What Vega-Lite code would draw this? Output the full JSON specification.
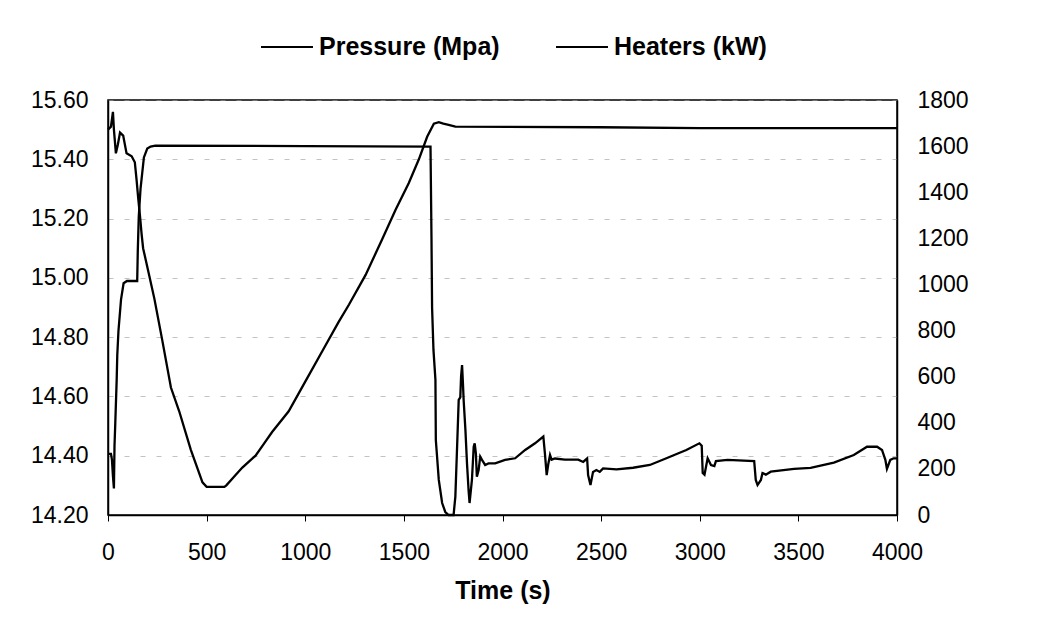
{
  "$schema": "https://vega.github.io/schema/vega-lite/v6.json",
  "width": 789,
  "height": 415,
  "autosize": {"type": "none"},
  "padding": {"left": 108, "top": 100, "right": 154, "bottom": 103},
  "background": "white",
  "config": {
    "view": {"stroke": "black", "strokeWidth": 1.5},
    "font": "Liberation Sans",
    "axis": {
      "labelFont": "Liberation Sans",
      "labelFontSize": 23,
      "labelColor": "black",
      "domainColor": "black",
      "domainWidth": 1.5,
      "tickColor": "black",
      "titleColor": "black",
      "titleFont": "Liberation Sans",
      "titleFontWeight": "bold",
      "titleFontSize": 25
    }
  },
  "datasets": {
    "pressure": [
      {"t": 0, "p": 15.50}, {"t": 15, "p": 15.51}, {"t": 25, "p": 15.56}, {"t": 30, "p": 15.50},
      {"t": 40, "p": 15.42}, {"t": 50, "p": 15.45}, {"t": 61, "p": 15.49}, {"t": 77, "p": 15.48},
      {"t": 94, "p": 15.42}, {"t": 120, "p": 15.41}, {"t": 136, "p": 15.39}, {"t": 145, "p": 15.33},
      {"t": 153, "p": 15.27}, {"t": 162, "p": 15.21}, {"t": 170, "p": 15.15}, {"t": 178, "p": 15.10},
      {"t": 205, "p": 15.02}, {"t": 235, "p": 14.93}, {"t": 275, "p": 14.79}, {"t": 319, "p": 14.63},
      {"t": 361, "p": 14.55}, {"t": 420, "p": 14.42}, {"t": 479, "p": 14.31}, {"t": 500, "p": 14.295},
      {"t": 590, "p": 14.295}, {"t": 600, "p": 14.30}, {"t": 640, "p": 14.33}, {"t": 681, "p": 14.36},
      {"t": 748, "p": 14.40}, {"t": 790, "p": 14.44}, {"t": 832, "p": 14.48}, {"t": 916, "p": 14.55},
      {"t": 1000, "p": 14.65}, {"t": 1101, "p": 14.77}, {"t": 1168, "p": 14.85}, {"t": 1222, "p": 14.91},
      {"t": 1306, "p": 15.01}, {"t": 1390, "p": 15.13}, {"t": 1458, "p": 15.23}, {"t": 1525, "p": 15.32},
      {"t": 1576, "p": 15.40}, {"t": 1618, "p": 15.476}, {"t": 1652, "p": 15.52}, {"t": 1677, "p": 15.525},
      {"t": 1700, "p": 15.52}, {"t": 1727, "p": 15.516}, {"t": 1761, "p": 15.51}, {"t": 2500, "p": 15.508},
      {"t": 3000, "p": 15.505}, {"t": 4000, "p": 15.505}
    ],
    "heaters": [
      {"t": 0, "h": 265}, {"t": 15, "h": 265}, {"t": 20, "h": 240}, {"t": 25, "h": 170}, {"t": 30, "h": 115},
      {"t": 33, "h": 300}, {"t": 37, "h": 400}, {"t": 44, "h": 586}, {"t": 47, "h": 693}, {"t": 53, "h": 798},
      {"t": 66, "h": 934}, {"t": 79, "h": 1005}, {"t": 96, "h": 1015}, {"t": 148, "h": 1015}, {"t": 151, "h": 1145},
      {"t": 156, "h": 1295}, {"t": 165, "h": 1416}, {"t": 182, "h": 1551}, {"t": 199, "h": 1589}, {"t": 216, "h": 1598},
      {"t": 240, "h": 1602}, {"t": 1000, "h": 1600}, {"t": 1635, "h": 1598}, {"t": 1640, "h": 1200}, {"t": 1643, "h": 900},
      {"t": 1650, "h": 716}, {"t": 1660, "h": 586}, {"t": 1662, "h": 325}, {"t": 1677, "h": 152}, {"t": 1694, "h": 52},
      {"t": 1710, "h": 13}, {"t": 1727, "h": 0}, {"t": 1752, "h": 0}, {"t": 1761, "h": 80}, {"t": 1770, "h": 300},
      {"t": 1778, "h": 499}, {"t": 1786, "h": 510}, {"t": 1790, "h": 600}, {"t": 1795, "h": 650}, {"t": 1800, "h": 560},
      {"t": 1803, "h": 499}, {"t": 1812, "h": 369}, {"t": 1820, "h": 224}, {"t": 1828, "h": 108}, {"t": 1833, "h": 52},
      {"t": 1845, "h": 152}, {"t": 1854, "h": 296}, {"t": 1859, "h": 311}, {"t": 1865, "h": 267}, {"t": 1870, "h": 166},
      {"t": 1879, "h": 195}, {"t": 1887, "h": 253}, {"t": 1896, "h": 239}, {"t": 1912, "h": 217}, {"t": 1929, "h": 224},
      {"t": 1963, "h": 224}, {"t": 2013, "h": 239}, {"t": 2064, "h": 246}, {"t": 2115, "h": 282}, {"t": 2165, "h": 311},
      {"t": 2207, "h": 340}, {"t": 2215, "h": 267}, {"t": 2224, "h": 173}, {"t": 2232, "h": 220}, {"t": 2241, "h": 260},
      {"t": 2249, "h": 240}, {"t": 2266, "h": 245}, {"t": 2316, "h": 240}, {"t": 2384, "h": 240}, {"t": 2409, "h": 230},
      {"t": 2429, "h": 245}, {"t": 2434, "h": 173}, {"t": 2446, "h": 130}, {"t": 2459, "h": 187}, {"t": 2476, "h": 195},
      {"t": 2493, "h": 187}, {"t": 2510, "h": 202}, {"t": 2578, "h": 198}, {"t": 2662, "h": 205}, {"t": 2747, "h": 217},
      {"t": 2831, "h": 246}, {"t": 2889, "h": 267}, {"t": 2932, "h": 282}, {"t": 2998, "h": 311}, {"t": 3010, "h": 300},
      {"t": 3015, "h": 182}, {"t": 3024, "h": 175}, {"t": 3040, "h": 246}, {"t": 3057, "h": 217}, {"t": 3074, "h": 212},
      {"t": 3082, "h": 234}, {"t": 3141, "h": 239}, {"t": 3276, "h": 234}, {"t": 3284, "h": 152}, {"t": 3293, "h": 130},
      {"t": 3310, "h": 152}, {"t": 3318, "h": 182}, {"t": 3335, "h": 175}, {"t": 3360, "h": 188}, {"t": 3478, "h": 200},
      {"t": 3562, "h": 204}, {"t": 3680, "h": 227}, {"t": 3781, "h": 260}, {"t": 3848, "h": 296}, {"t": 3899, "h": 296},
      {"t": 3924, "h": 282}, {"t": 3941, "h": 239}, {"t": 3949, "h": 200}, {"t": 3966, "h": 239}, {"t": 3983, "h": 246},
      {"t": 4000, "h": 246}
    ]
  },
  "layer": [
    {
      "data": {"name": "pressure"},
      "mark": {"type": "line", "strokeWidth": 2.3, "interpolate": "linear"},
      "encoding": {
        "x": {
          "field": "t", "type": "quantitative",
          "scale": {"domain": [0, 4000], "nice": false},
          "axis": {"values": [0, 500, 1000, 1500, 2000, 2500, 3000, 3500, 4000], "format": "d", "title": "Time (s)", "grid": false,
                   "ticks": true, "tickSize": 6, "labelPadding": 20, "titlePadding": 14, "labelFlush": false}
        },
        "y": {
          "field": "p", "type": "quantitative",
          "scale": {"domain": [14.2, 15.6], "nice": false, "zero": false},
          "axis": {"values": [14.2, 14.4, 14.6, 14.8, 15.0, 15.2, 15.4, 15.6], "format": ".2f", "title": null,
                   "ticks": false, "labelPadding": 20, "grid": true, "gridColor": "#999999", "gridDash": [5, 11],
                   "gridOpacity": 0.6, "gridWidth": 1}
        },
        "color": {
          "datum": "Pressure (Mpa)",
          "scale": {"domain": ["Pressure (Mpa)", "Heaters (kW)"], "range": ["black", "black"]},
          "legend": {
            "orient": "none", "legendX": 152, "legendY": -80, "direction": "horizontal",
            "title": null, "symbolType": "stroke", "symbolSize": 2700, "symbolStrokeWidth": 2,
            "labelFont": "Liberation Sans", "labelFontWeight": "bold", "labelFontSize": 25, "labelColor": "black",
            "labelOffset": 5, "columnPadding": 52, "labelLimit": 400
          }
        }
      }
    },
    {
      "data": {"name": "heaters"},
      "mark": {"type": "line", "strokeWidth": 2.3, "interpolate": "linear"},
      "encoding": {
        "x": {"field": "t", "type": "quantitative", "scale": {"domain": [0, 4000], "nice": false}},
        "y": {
          "field": "h", "type": "quantitative",
          "scale": {"domain": [0, 1800], "nice": false},
          "axis": {"orient": "right", "values": [0, 200, 400, 600, 800, 1000, 1200, 1400, 1600, 1800], "format": "d", "title": null,
                   "ticks": false, "labelPadding": 20, "grid": false}
        },
        "color": {"datum": "Heaters (kW)"}
      }
    }
  ],
  "resolve": {"scale": {"y": "independent"}}
}
